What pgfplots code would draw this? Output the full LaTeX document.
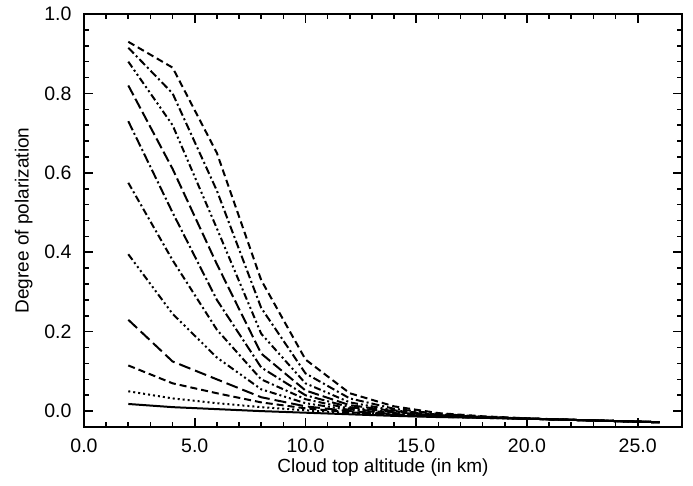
\documentclass[border=0pt]{standalone}
\usepackage{pgfplots}
\pgfplotsset{compat=1.18}
\usepackage{pgfplotstable}
\usepackage{fontspec}
\setmainfont{Liberation Sans}
\pgfplotstableread{
x  c1     c2     c3     c4     c5     c6     c7     c8     c9     c10    c11
2  0.930  0.915  0.880  0.820  0.730  0.575  0.395  0.230  0.115  0.050  0.018
4  0.865  0.800  0.720  0.610  0.500  0.380  0.245  0.125  0.070  0.032  0.010
6  0.650  0.555  0.460  0.370  0.280  0.205  0.135  0.080  0.045  0.020  0.005
8  0.330  0.260  0.195  0.145  0.110  0.080  0.055  0.035  0.022  0.010  0.000
10 0.130  0.095  0.070  0.052  0.040  0.030  0.020  0.012  0.007  0.002  -0.004
12 0.045  0.032  0.022  0.015  0.010  0.006  0.003  0.000  -0.003 -0.005 -0.008
14 0.012  0.006  0.002  0.000  -0.003 -0.005 -0.006 -0.008 -0.009 -0.010 -0.012
16 -0.005 -0.007 -0.009 -0.010 -0.011 -0.012 -0.012 -0.013 -0.013 -0.014 -0.015
18 -0.013 -0.014 -0.015 -0.015 -0.016 -0.016 -0.016 -0.016 -0.017 -0.017 -0.017
20 -0.018 -0.019 -0.019 -0.019 -0.019 -0.019 -0.019 -0.019 -0.019 -0.019 -0.019
22 -0.022 -0.022 -0.022 -0.022 -0.022 -0.022 -0.022 -0.022 -0.022 -0.022 -0.022
24 -0.025 -0.025 -0.025 -0.025 -0.025 -0.025 -0.025 -0.025 -0.025 -0.025 -0.025
26 -0.028 -0.028 -0.028 -0.028 -0.028 -0.028 -0.028 -0.028 -0.028 -0.028 -0.028
}\data
\begin{document}
\begin{tikzpicture}
\begin{axis}[
  scale only axis,
  width=598pt, height=413pt,
  xmin=0, xmax=27, ymin=-0.04, ymax=1.0,
  xtick={0,5,...,25}, ytick={0,0.2,...,1.0},
  minor x tick num=4, minor y tick num=4,
  tick align=inside,
  major tick length=9pt, minor tick length=5pt,
  axis line style={line width=2pt},
  every tick/.style={black, line width=1.6pt},
  tick label style={font=\fontsize{19.5}{22}\selectfont},
  label style={font=\fontsize{19}{22}\selectfont},
  xticklabel style={yshift=-8pt},
  yticklabel style={xshift=-9pt},
  /pgf/number format/.cd, fixed, fixed zerofill, precision=1, assume math mode=true,
  /pgfplots/.cd,
  xlabel={Cloud top altitude (in km)},
  ylabel={Degree of polarization},
  xlabel style={yshift=0pt},
  ylabel style={yshift=5pt},
  every axis plot/.append style={black, line width=2pt},
]
\addplot[dash pattern=on 7pt off 4pt] table[y=c1]{\data};
\addplot[dash pattern=on 8pt off 3pt on 2pt off 3pt] table[y=c2]{\data};
\addplot[dash pattern=on 7pt off 3pt on 2pt off 3pt on 2pt off 3pt] table[y=c3]{\data};
\addplot[dash pattern=on 11pt off 4pt] table[y=c4]{\data};
\addplot[dash pattern=on 10pt off 3pt on 2pt off 3pt] table[y=c5]{\data};
\addplot[dash pattern=on 7pt off 3pt on 2pt off 3pt] table[y=c6]{\data};
\addplot[dash pattern=on 7pt off 3pt on 2pt off 3pt on 2pt off 3pt on 2pt off 3pt] table[y=c7]{\data};
\addplot[dash pattern=on 12pt off 5pt] table[y=c8]{\data};
\addplot[dash pattern=on 7pt off 4pt] table[y=c9]{\data};
\addplot[dash pattern=on 2pt off 3pt] table[y=c10]{\data};
\addplot[solid] table[y=c11]{\data};
\end{axis}
\path (current axis.south west) +(-84pt,-58pt) (current axis.north east) +(11pt,14pt);
\end{tikzpicture}
\end{document}
